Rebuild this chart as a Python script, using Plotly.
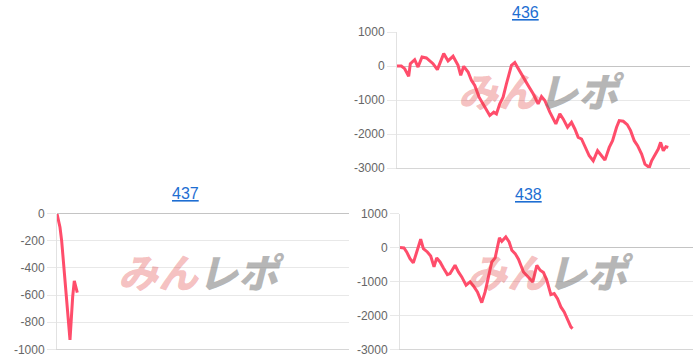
import plotly.graph_objects as go

# ---- data (x = game count, y = difference in coins) ----
x_436 = [0, 118, 210, 319, 364, 456, 483, 574, 683, 802, 911, 984, 1102, 1276, 1394, 1531,
         1667, 1740, 1822, 1941, 2032, 2123, 2241, 2351, 2533, 2642, 2715, 2806, 2897, 2988,
         3125, 3216, 3308, 3444, 3581, 3718, 3854, 3945, 4036, 4173, 4337, 4446, 4537, 4656,
         4765, 4856, 4948, 5039, 5130, 5248, 5358, 5476, 5585, 5677, 5795, 5886, 5995, 6068,
         6178, 6287, 6378, 6478, 6569, 6679, 6770, 6888, 6952, 7043, 7134, 7198, 7271, 7343, 7407]
y_436 = [0, 0, -79, -305, 69, 167, 187, -30, 266, 236, 118, 69, -108, 364, 148, 286,
         20, -276, -10, -177, -424, -571, -916, -1113, -1458, -1359, -1409, -1113, -916, -522,
         20, 99, -79, -325, -571, -818, -1113, -896, -1015, -1359, -1704, -1409, -1556, -1803,
         -1655, -1852, -2098, -2147, -2344, -2640, -2788, -2492, -2640, -2768, -2394, -2197, -1803, -1606,
         -1625, -1724, -1901, -2197, -2344, -2591, -2886, -2985, -2788, -2591, -2443, -2246, -2492, -2374, -2394]

x_437 = [0, 82, 128, 192, 246, 301, 356, 430, 474, 556]
y_437 = [0, -100, -200, -400, -600, -800, -931, -611, -496, -582]

x_438 = [0, 109, 182, 273, 364, 437, 565, 638, 747, 838, 929, 1002, 1093, 1185, 1294, 1367,
         1503, 1595, 1686, 1804, 1914, 2005, 2114, 2232, 2324, 2415, 2506, 2597, 2715, 2779,
         2889, 2980, 3053, 3144, 3235, 3371, 3508, 3627, 3736, 3827, 3918, 4009, 4119, 4210,
         4301, 4392, 4483, 4574, 4665, 4711]
y_438 = [0, -10, -128, -324, -452, -177, 246, -29, -128, -246, -570, -305, -423, -600, -796, -767,
         -521, -718, -865, -1111, -1012, -1130, -1307, -1622, -1307, -865, -423, -305, 285, 187,
         315, 167, -79, -177, -344, -718, -865, -1012, -521, -668, -737, -963, -1386, -1357,
         -1504, -1750, -1897, -2143, -2340, -2389]

titles = ["436", "437", "438"]
x_max = 8000

ticks_big = [-3000, -2000, -1000, 0, 1000]
ticktext_big = ["-3000", "-2000", "-1000", "0", "1000"]
ticks_small = [-1000, -800, -600, -400, -200, 0]
ticktext_small = ["-1000", "-800", "-600", "-400", "-200", "0"]

# ---- styling ----
W, H = 700, 364
LINE = "rgb(255,77,107)"
GRID = "#e8e8e8"
ZERO = "#c4c4c4"
LABEL = "#666666"
FONT = "Liberation Sans, Arial, sans-serif"


def px(v):
    return v / W


def py(v):
    return 1 - v / H


fig = go.Figure()
fig.add_trace(go.Scatter(x=x_436, y=y_436, xaxis="x", yaxis="y", mode="lines",
                         line=dict(color=LINE, width=3), hoverinfo="skip"))
fig.add_trace(go.Scatter(x=x_437, y=y_437, xaxis="x2", yaxis="y2", mode="lines",
                         line=dict(color=LINE, width=3), hoverinfo="skip"))
fig.add_trace(go.Scatter(x=x_438, y=y_438, xaxis="x3", yaxis="y3", mode="lines",
                         line=dict(color=LINE, width=3), hoverinfo="skip"))


def xax(d0, d1, anchor):
    return dict(domain=[px(d0), px(d1)], anchor=anchor, range=[0, x_max],
                showgrid=False, showticklabels=False, zeroline=False, automargin=False,
                showline=True, linecolor="#d6d6d6", linewidth=1, fixedrange=True)


def yax(t, b, anchor, rng, tv, tt):
    return dict(domain=[py(b), py(t)], anchor=anchor, range=rng, automargin=False,
                tickvals=tv, ticktext=tt, showgrid=True, gridcolor=GRID, gridwidth=1,
                zeroline=True, zerolinecolor=ZERO, zerolinewidth=1,
                showline=True, linecolor="#e2e2e2", linewidth=1,
                ticks="outside", ticklen=9, tickcolor=GRID, tickwidth=1,
                tickfont=dict(size=12, color=LABEL, family=FONT), fixedrange=True)


fig.update_layout(
    width=W, height=H, autosize=False, margin=dict(l=0, r=0, t=0, b=0, pad=0),
    paper_bgcolor="white", plot_bgcolor="white", showlegend=False,
    xaxis=xax(397, 690, "y"),
    yaxis=yax(32, 168, "x", [-3000, 1000], ticks_big, ticktext_big),
    xaxis2=xax(57, 349, "y2"),
    yaxis2=yax(213.7, 349.3, "x2", [-1000, 0], ticks_small, ticktext_small),
    xaxis3=xax(400, 693, "y3"),
    yaxis3=yax(213.7, 349.3, "x3", [-3000, 1000], ticks_big, ticktext_big),
)

title_pos = [(525.5, 13), (185, 193), (528.5, 194)]
for t, (cx, cy) in zip(titles, title_pos):
    fig.add_annotation(text="<u>" + t + "</u>", x=px(cx), y=py(cy), xref="paper", yref="paper",
                       showarrow=False, xanchor="center", yanchor="middle",
                       font=dict(size=16, color="rgb(30,110,210)", family=FONT))

# watermark "みんレポ"
wm_pos = [(541, 90), (201, 271), (550, 271)]
for cx, cy in wm_pos:
    fig.add_annotation(
        text="<span style='color:rgba(225,60,60,0.32)'>みん</span>"
             "<span style='color:rgba(110,110,110,0.5)'>レポ</span>",
        x=px(cx), y=py(cy), xref="paper", yref="paper",
        showarrow=False, xanchor="center", yanchor="middle",
        font=dict(size=40, weight=900, style="italic", family="Noto Sans CJK JP"))

fig.write_html("out.html")
